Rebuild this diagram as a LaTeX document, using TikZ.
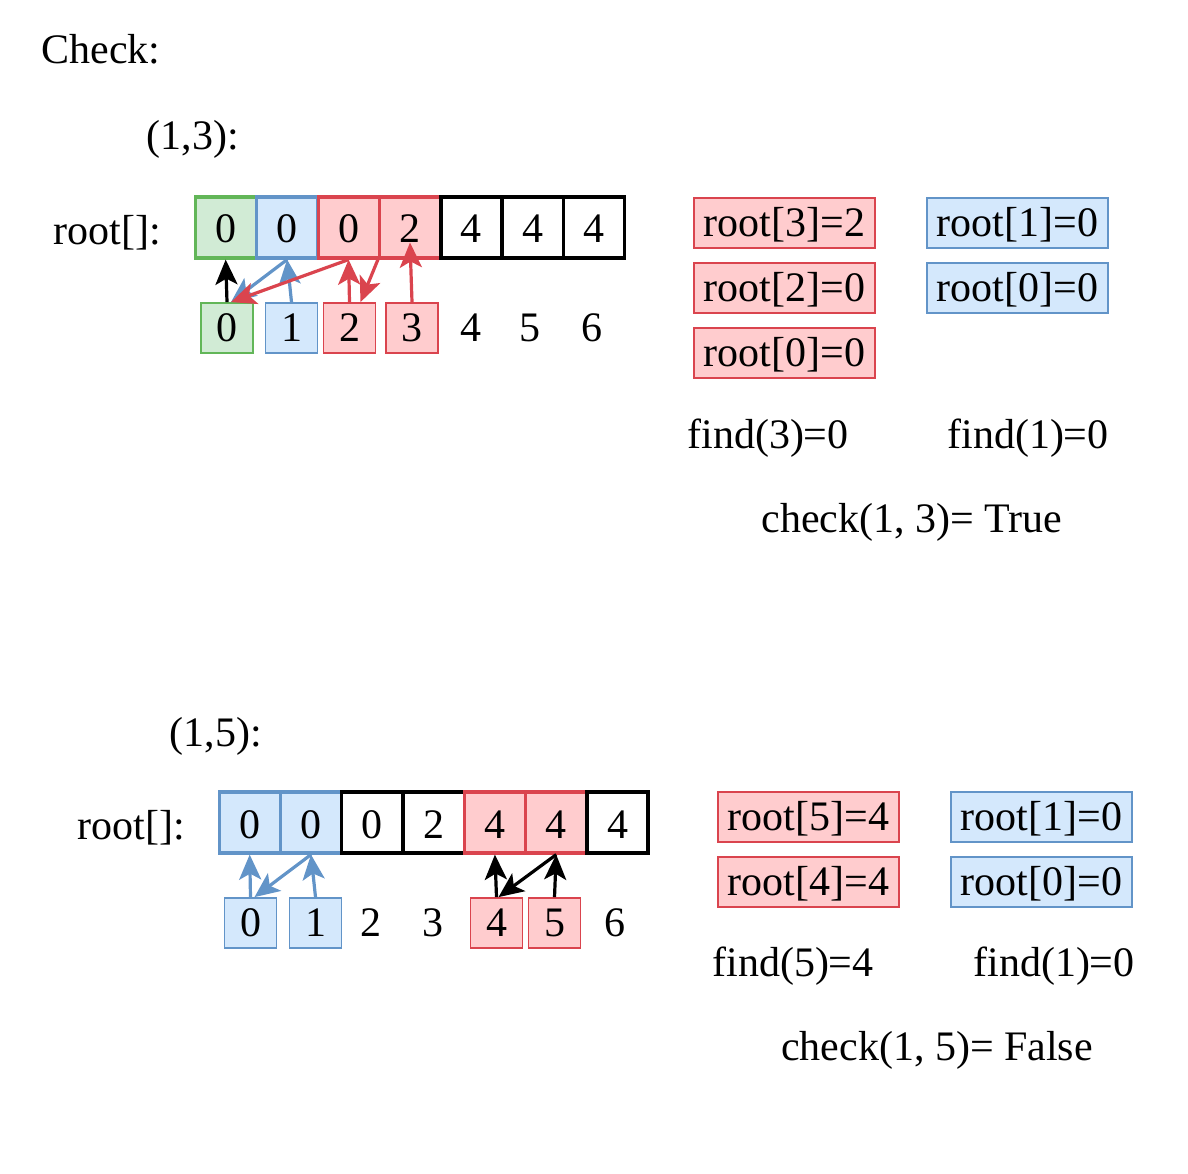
\documentclass[tikz,border=0pt]{standalone}
\usepackage{fontspec}
\setmainfont{Liberation Serif}
\usetikzlibrary{arrows.meta}
\definecolor{grnF}{RGB}{209,235,213}
\definecolor{grnD}{RGB}{98,182,88}
\definecolor{bluF}{RGB}{212,232,252}
\definecolor{bluD}{RGB}{98,148,200}
\definecolor{redF}{RGB}{255,204,206}
\definecolor{redD}{RGB}{218,68,78}
\begin{document}
\begin{tikzpicture}[x=1pt, y=-1pt,
			>={Stealth[length=25pt,width=22pt,inset=6pt]},
			font=\fontsize{42}{50}\selectfont,
			cell/.style={minimum size=61pt, inner sep=0pt, line width=3.2pt, text height=31pt, text depth=0pt},
			idx/.style={minimum width=52pt, minimum height=50pt, inner sep=0pt, line width=1.8pt},
			info/.style={minimum width=181pt, minimum height=50pt, inner sep=0pt, line width=1.8pt, text height=33pt, text depth=6pt},
			grnbox/.style={fill=grnF, draw=grnD},
			blubox/.style={fill=bluF, draw=bluD},
			redbox/.style={fill=redF, draw=redD},
			whtbox/.style={fill=white, draw=black},
			nobox/.style={},
			ptr/.style={->, line width=3.2pt}]
			\useasboundingbox (0,0) rectangle (1188,1174);
			% Titel
			\node[anchor=west] (check) at (38,49) {Check:};
			%%% erster Fall (1,3)
			\node[anchor=west] (q1) at (143,139) {(1,3):};
			\node[anchor=west] (r1) at (50,233) {root[]:};
			% Array
			\foreach \x/\v/\s [count=\i from 0] in {225.7/0/grnbox, 287.1/0/blubox, 348.6/0/redbox, 410/2/redbox, 471.4/4/whtbox, 532.9/4/whtbox, 594.3/4/whtbox}
				\node[cell, \s] (a\i) at (\x,227.5) {\v};
			% Indizes
			\foreach \x/\s [count=\i from 0] in {227/grnbox, 291.5/blubox, 349.5/redbox, 412/redbox, 471/nobox, 530/nobox, 592/nobox}
				\node[idx, \s] (i\i) at (\x,328) {\i};
			% Pfeile
			\draw[ptr] (i0.north) -- (a0.south);
			\draw[ptr, bluD] (a1.south) -- ([xshift=4pt]i0.north);
			\draw[ptr, bluD] (i1.north) -- (a1.south);
			\draw[ptr, redD] (a2.south) -- ([xshift=4pt]i0.north);
			\draw[ptr, redD] (i2.north) -- (a2.south);
			\draw[ptr, redD] (a3.south west) -- ([xshift=11pt]i2.north);
			\draw[ptr, redD] (i3.north) -- ([yshift=-15pt]a3.center);
			% Suche
			\node[info, redbox] (p1) at (784.5,223) {root[3]=2};
			\node[info, redbox] (p2) at (784.5,288) {root[2]=0};
			\node[info, redbox] (p3) at (784.5,353) {root[0]=0};
			\node[info, blubox] (p4) at (1017.5,223) {root[1]=0};
			\node[info, blubox] (p5) at (1017.5,288) {root[0]=0};
			\node (f1) at (768,438) {find(3)=0};
			\node (f2) at (1028,438) {find(1)=0};
			\node (c1) at (912,522) {check(1, 3)= True};
			%%% zweiter Fall (1,5)
			\node[anchor=west] (q2) at (166,736) {(1,5):};
			\node[anchor=west] (r2) at (74,828) {root[]:};
			\foreach \x/\v/\s [count=\i from 0] in {249.7/0/blubox, 311/0/blubox, 372.3/0/whtbox, 433.6/2/whtbox, 494.9/4/redbox, 556.2/4/redbox, 617.5/4/whtbox}
				\node[cell, \s] (b\i) at (\x,822.5) {\v};
			\foreach \x/\s [count=\i from 0] in {250.5/blubox, 315.5/blubox, 371/nobox, 433/nobox, 496.5/redbox, 554.5/redbox, 615/nobox}
				\node[idx, \s] (j\i) at (\x,923) {\i};
			\draw[ptr, bluD] (j0.north) -- (b0.south);
			\draw[ptr, bluD] (b1.south) -- ([xshift=4pt]j0.north);
			\draw[ptr, bluD] (j1.north) -- (b1.south);
			\draw[ptr] (j4.north) -- (b4.south);
			\draw[ptr] (b5.south) -- ([xshift=2pt]j4.north);
			\draw[ptr] (j5.north) -- (b5.south);
			\node[info, redbox] (s1) at (808.5,817) {root[5]=4};
			\node[info, redbox] (s2) at (808.5,882) {root[4]=4};
			\node[info, blubox] (s3) at (1041.5,817) {root[1]=0};
			\node[info, blubox] (s4) at (1041.5,882) {root[0]=0};
			\node (g1) at (793,966) {find(5)=4};
			\node (g2) at (1054,966) {find(1)=0};
			\node (c2) at (937,1050) {check(1, 5)= False};
		\end{tikzpicture}
\end{document}
